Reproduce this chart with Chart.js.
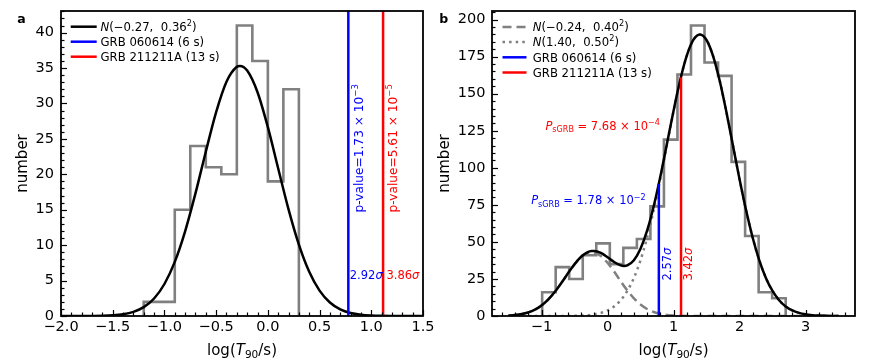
<!DOCTYPE html>
<html><head><meta charset="utf-8">
<script src="https://cdn.jsdelivr.net/npm/chart.js@4.4.0/dist/chart.umd.min.js"></script>
<style>
html,body{margin:0;padding:0;background:#fff;}
#wrap{position:relative;width:872px;height:364px;overflow:hidden;}
canvas{position:absolute;top:0;}
</style></head><body>
<div id="wrap">
<canvas id="ca" width="436" height="364" style="left:0px"></canvas>
<canvas id="cb" width="436" height="364" style="left:436px"></canvas>
</div>
<script>
// ---------------- DATA ----------------
// Panel a: histogram (step outline)
const aBinEdges = [-1.2, -1.05, -0.9, -0.75, -0.6, -0.45, -0.3, -0.15, 0.0, 0.15, 0.3];
const aCounts   = [2, 2, 15, 24, 21, 20, 41, 36, 19, 32];
// Panel a: fitted normal curve N(-0.27, 0.36^2)
const aFitX = [-2.0,-1.9,-1.8,-1.7,-1.6,-1.5,-1.4,-1.3,-1.2,-1.1,-1.0,-0.9,-0.8,-0.7,-0.6,-0.5,-0.4,-0.3,-0.27,-0.2,-0.1,0.0,0.1,0.2,0.3,0.4,0.5,0.6,0.7,0.8,0.9,1.0,1.1,1.2,1.3,1.4,1.5];
const aFitY = [0.0003,0.0012,0.0042,0.013,0.038,0.103,0.256,0.589,1.254,2.474,4.518,7.635,11.95,17.30,23.19,28.78,33.07,35.18,35.30,34.64,31.58,26.65,20.82,15.06,10.08,6.245,3.583,1.904,0.936,0.426,0.180,0.070,0.025,0.0085,0.0026,0.0007,0.0002];

// Panel b: histogram
const bBinEdges = [-0.990,-0.785,-0.580,-0.375,-0.170,0.035,0.240,0.445,0.650,0.855,1.060,1.265,1.470,1.675,1.880,2.085,2.290,2.495,2.700];
const bCounts   = [16, 33, 25, 41, 49, 35, 46, 52, 74, 119, 163, 196, 171, 162, 104, 54, 16, 12];
// Panel b: fitted curves
const bFitX = [-1.5,-1.4,-1.3,-1.2,-1.1,-1.0,-0.9,-0.8,-0.7,-0.6,-0.5,-0.4,-0.3,-0.24,-0.2,-0.1,0.0,0.1,0.2,0.25,0.3,0.4,0.5,0.6,0.7,0.8,0.9,1.0,1.1,1.2,1.3,1.4,1.5,1.6,1.7,1.8,1.9,2.0,2.1,2.2,2.3,2.4,2.5,2.6,2.7,2.8,2.9,3.0,3.1,3.2,3.3,3.4,3.5];
const bFitShort = [0.301,0.642,1.284,2.414,4.262,7.073,11.02,16.14,22.20,28.68,34.81,39.69,42.52,43.00,42.79,40.45,35.92,29.96,23.48,20.29,17.29,11.95,7.77,4.74,2.72,1.464,0.741,0.352,0.157,0.066,0.026,0.0096,0.0034,0.0011,0.0003,0,0,0,0,0,0,0,0,0,0,0,0,0,0,0,0,0,0];
const bFitLong = [0,0,0.0001,0.0003,0.0007,0.0019,0.0048,0.0119,0.0281,0.0637,0.139,0.291,0.587,0.877,1.136,2.111,3.770,6.470,10.66,13.49,16.89,25.71,37.60,52.82,71.31,92.49,115.24,137.97,158.71,175.39,186.24,190.0,186.24,175.39,158.71,137.97,115.24,92.49,71.31,52.82,37.60,25.71,16.89,10.66,6.47,3.77,2.11,1.136,0.587,0.291,0.139,0.064,0.028];
const bFitTotal = [0.301,0.642,1.284,2.414,4.263,7.075,11.03,16.15,22.23,28.74,34.95,39.98,43.11,43.88,43.93,42.56,39.69,36.43,34.14,33.78,34.18,37.66,45.37,57.56,74.03,93.95,115.98,138.32,158.87,175.46,186.27,190.01,186.24,175.39,158.71,137.97,115.24,92.49,71.31,52.82,37.60,25.71,16.89,10.66,6.47,3.77,2.11,1.136,0.587,0.291,0.139,0.064,0.028];

// GRB markers
const grbNames  = ['GRB 060614 (6 s)', 'GRB 211211A (13 s)'];
const grbLogT90 = [0.778, 1.114];
const grbColors = ['#0000ff', '#ff0000'];
const bLineTops = [89, 161];

// Tick labels
const aXTickVals = [-2, -1.5, -1, -0.5, 0, 0.5, 1, 1.5];
const aXTickLabels = ['\u22122.0','\u22121.5','\u22121.0','\u22120.5','0.0','0.5','1.0','1.5'];
const aYTickVals = [0,5,10,15,20,25,30,35,40];
const aYTickLabels = ['0','5','10','15','20','25','30','35','40'];
const bXTickVals = [-1, 0, 1, 2, 3];
const bXTickLabels = ['\u22121','0','1','2','3'];
const bYTickVals = [0,25,50,75,100,125,150,175,200];
const bYTickLabels = ['0','25','50','75','100','125','150','175','200'];

// ---------------- HELPERS ----------------
const FAM = '"DejaVu Sans"';
function fnt(size, it, bold){ return (it?'italic ':'') + (bold?'bold ':'') + size + 'px ' + FAM; }
function drawRich(ctx, segs, x, y, size, color, align, rot){
  ctx.save();
  ctx.translate(x, y);
  if (rot) ctx.rotate(rot);
  let w = 0;
  const parts = segs.map(s => {
    const sz = (s.sup || s.sub) ? size * 0.7 : size;
    const f = fnt(sz, s.it, s.b);
    ctx.font = f;
    const mw = ctx.measureText(s.t).width;
    w += mw;
    return {t: s.t, f, mw, dy: s.sup ? -size * 0.42 : (s.sub ? size * 0.22 : 0)};
  });
  let cx = align === 'right' ? -w : (align === 'center' ? -w / 2 : 0);
  ctx.fillStyle = color; ctx.textBaseline = 'alphabetic'; ctx.textAlign = 'left';
  parts.forEach(p => { ctx.font = p.f; ctx.fillText(p.t, cx, p.dy); cx += p.mw; });
  ctx.restore();
}
function histOutline(edges, counts){
  const pts = [{x: edges[0], y: 0}];
  for (let i = 0; i < counts.length; i++){
    pts.push({x: edges[i], y: counts[i]});
    pts.push({x: edges[i+1], y: counts[i]});
  }
  pts.push({x: edges[edges.length-1], y: 0});
  return pts;
}
function zip(xs, ys){ return xs.map((x, i) => ({x, y: ys[i]})); }
function stepTicks(min, max, step){
  const out = [];
  for (let k = Math.ceil(min/step - 1e-9); k <= Math.floor(max/step + 1e-9); k++){
    out.push(Math.round(k*step*1e9)/1e9);
  }
  return out;
}
function isIn(v, arr){ return arr.findIndex(m => Math.abs(m - v) < 1e-7); }

function makeChart(cfg){
  const ctxEl = document.getElementById(cfg.canvas);
  const xTicks = stepTicks(cfg.xMin, cfg.xMax, cfg.xStep);
  const yTicks = stepTicks(0, cfg.yMax, cfg.yStep);
  const framePlugin = {
    id: 'frame_' + cfg.canvas,
    afterDatasetsDraw(chart){
      const ctx = chart.ctx, ca = chart.chartArea;
      const xs = chart.scales.x, ys = chart.scales.y;
      ctx.save();
      ctx.strokeStyle = '#000'; ctx.lineWidth = 1.2; ctx.lineCap = 'butt';
      xTicks.forEach(v => {
        const px = Math.round(xs.getPixelForValue(v)) + 0.5;
        const L = isIn(v, cfg.xMajor) >= 0 ? 6 : 3.5;
        ctx.beginPath(); ctx.moveTo(px, ca.bottom); ctx.lineTo(px, ca.bottom - L); ctx.stroke();
      });
      yTicks.forEach(v => {
        const py = Math.round(ys.getPixelForValue(v)) + 0.5;
        const L = isIn(v, cfg.yMajor) >= 0 ? 6 : 3.5;
        ctx.beginPath(); ctx.moveTo(ca.left, py); ctx.lineTo(ca.left + L, py); ctx.stroke();
      });
      ctx.lineWidth = 1.8;
      ctx.strokeRect(ca.left, ca.top, ca.right - ca.left, ca.bottom - ca.top);
      // annotations
      cfg.notes.forEach(n => {
        const px = xs.getPixelForValue(n.x) + (n.dx || 0);
        const py = ys.getPixelForValue(n.y) + (n.dy || 0);
        drawRich(ctx, n.segs, px, py, n.size, n.color, n.align, n.rot);
      });
      // legend
      cfg.legend.forEach((it, i) => {
        const yy = cfg.legY + i * cfg.legStep;
        ctx.save();
        ctx.strokeStyle = it.color; ctx.lineWidth = 2.5; ctx.lineCap = 'butt';
        ctx.setLineDash(it.dash || []);
        ctx.beginPath(); ctx.moveTo(cfg.legX0, yy); ctx.lineTo(cfg.legX1, yy); ctx.stroke();
        ctx.restore();
        drawRich(ctx, it.segs, cfg.legTX, yy + 4.2, 11.7, '#000', 'left', 0);
      });
      // titles
      drawRich(ctx, [{t:'log('},{t:'T',it:1},{t:'90',sub:1},{t:'/s)'}], (ca.left + ca.right)/2, 355, 15, '#000', 'center', 0);
      drawRich(ctx, [{t:'number'}], cfg.yTitleX, (ca.top + ca.bottom)/2, 15, '#000', 'center', -Math.PI/2);
      drawRich(ctx, [{t:cfg.letter, b:1}], cfg.letterX, 23.3, 12.5, '#000', 'left', 0);
      ctx.restore();
    }
  };
  return new Chart(ctxEl, {
    type: 'line',
    data: { datasets: cfg.datasets },
    options: {
      responsive: false, animation: false, events: [],
      layout: { padding: cfg.pad },
      plugins: { legend: {display: false}, tooltip: {enabled: false} },
      elements: { point: { radius: 0 } },
      scales: {
        x: {
          type: 'linear', min: cfg.xMin, max: cfg.xMax,
          afterBuildTicks: s => { s.ticks = xTicks.map(v => ({value: v})); },
          afterFit: s => { s.height = cfg.xHeight; s.paddingLeft = 0; s.paddingRight = 0; },
          ticks: { autoSkip: false, maxRotation: 0, minRotation: 0, padding: 3, color: '#000',
                   font: {family: 'DejaVu Sans', size: 14.5},
                   callback: v => { const k = isIn(v, cfg.xMajor); return k >= 0 ? cfg.xLabels[k] : ''; } },
          grid: { display: false, drawTicks: false }, border: { display: false }
        },
        y: {
          type: 'linear', min: 0, max: cfg.yMax,
          afterBuildTicks: s => { s.ticks = yTicks.map(v => ({value: v})); },
          afterFit: s => { s.width = cfg.yWidth; s.paddingTop = 0; s.paddingBottom = 0; },
          ticks: { autoSkip: false, padding: cfg.yPad, color: '#000',
                   font: {family: 'DejaVu Sans', size: 14.5},
                   callback: v => { const k = isIn(v, cfg.yMajor); return k >= 0 ? cfg.yLabels[k] : ''; } },
          grid: { display: false, drawTicks: false }, border: { display: false }
        }
      }
    },
    plugins: [framePlugin]
  });
}

const GRAY = '#808080';
// ---------------- PANEL A ----------------
const aYMax = 43.05;
makeChart({
  canvas: 'ca', xMin: -2, xMax: 1.5, yMax: aYMax, xStep: 0.1, yStep: 1,
  xMajor: aXTickVals, xLabels: aXTickLabels, yMajor: aYTickVals, yLabels: aYTickLabels,
  pad: {left: 0, top: 11, right: 13, bottom: 0}, yWidth: 61, xHeight: 48, yPad: 7,
  yTitleX: 26.7, letter: 'a', letterX: 17.3,
  legX0: 70.7, legX1: 96.7, legTX: 100.5, legY: 26.7, legStep: 15,
  legend: [
    {color: '#000', segs: [{t:'N',it:1},{t:'(\u22120.27,  0.36'},{t:'2',sup:1},{t:')'}]},
    {color: grbColors[0], segs: [{t: grbNames[0]}]},
    {color: grbColors[1], segs: [{t: grbNames[1]}]}
  ],
  notes: [
    {x: grbLogT90[0], dx: 14.5, y: 14.6, rot: -Math.PI/2, size: 12.2, color: grbColors[0], align: 'left',
     segs: [{t:'p-value=1.73 \u00d7 10'},{t:'\u22123',sup:1}]},
    {x: grbLogT90[1], dx: 13.8, y: 14.6, rot: -Math.PI/2, size: 12.2, color: grbColors[1], align: 'left',
     segs: [{t:'p-value=5.61 \u00d7 10'},{t:'\u22125',sup:1}]},
    {x: 0.792, y: 5.16, size: 11.5, color: grbColors[0], align: 'left', segs: [{t:'2.92'},{t:'\u03c3',it:1}]},
    {x: 1.147, y: 5.16, size: 11.5, color: grbColors[1], align: 'left', segs: [{t:'3.86'},{t:'\u03c3',it:1}]}
  ],
  datasets: [
    {data: histOutline(aBinEdges, aCounts), borderColor: GRAY, borderWidth: 2.6, tension: 0, order: 5, borderJoinStyle: 'miter'},
    {data: zip(aFitX, aFitY), borderColor: '#000', borderWidth: 2.5, cubicInterpolationMode: 'monotone', order: 3},
    {data: [{x: grbLogT90[0], y: 0}, {x: grbLogT90[0], y: aYMax}], borderColor: grbColors[0], borderWidth: 2.5, order: 2},
    {data: [{x: grbLogT90[1], y: 0}, {x: grbLogT90[1], y: aYMax}], borderColor: grbColors[1], borderWidth: 2.5, order: 1}
  ]
});

// ---------------- PANEL B ----------------
const bYMax = 205.8;
makeChart({
  canvas: 'cb', xMin: -1.75, xMax: 3.75, yMax: bYMax, xStep: 0.2, yStep: 5,
  xMajor: bXTickVals, xLabels: bXTickLabels, yMajor: bYTickVals, yLabels: bYTickLabels,
  pad: {left: 0, top: 11, right: 17, bottom: 0}, yWidth: 56, xHeight: 48, yPad: 6.5,
  yTitleX: 12.5, letter: 'b', letterX: 3.3,
  legX0: 66.5, legX1: 90.5, legTX: 96.7, legY: 26.9, legStep: 15.2,
  legend: [
    {color: GRAY, dash: [9, 5], segs: [{t:'N',it:1},{t:'(\u22120.24,  0.40'},{t:'2',sup:1},{t:')'}]},
    {color: GRAY, dash: [2.5, 4.1], segs: [{t:'N',it:1},{t:'(1.40,  0.50'},{t:'2',sup:1},{t:')'}]},
    {color: grbColors[0], segs: [{t: grbNames[0]}]},
    {color: grbColors[1], segs: [{t: grbNames[1]}]}
  ],
  notes: [
    {x: 0.794, y: 125.8, size: 11.5, color: grbColors[1], align: 'right',
     segs: [{t:'P',it:1},{t:'sGRB',sub:1},{t:' = 7.68 \u00d7 10'},{t:'\u22124',sup:1}]},
    {x: 0.578, y: 75.3, size: 11.5, color: grbColors[0], align: 'right',
     segs: [{t:'P',it:1},{t:'sGRB',sub:1},{t:' = 1.78 \u00d7 10'},{t:'\u22122',sup:1}]},
    {x: grbLogT90[0], dx: 12, y: 23.9, rot: -Math.PI/2, size: 11.5, color: grbColors[0], align: 'left', segs: [{t:'2.57'},{t:'\u03c3',it:1}]},
    {x: grbLogT90[1], dx: 11, y: 23.9, rot: -Math.PI/2, size: 11.5, color: grbColors[1], align: 'left', segs: [{t:'3.42'},{t:'\u03c3',it:1}]}
  ],
  datasets: [
    {data: histOutline(bBinEdges, bCounts), borderColor: GRAY, borderWidth: 2.6, tension: 0, order: 6, borderJoinStyle: 'miter'},
    {data: zip(bFitX, bFitShort), borderColor: GRAY, borderWidth: 2.5, borderDash: [9, 5], cubicInterpolationMode: 'monotone', order: 5},
    {data: zip(bFitX, bFitLong), borderColor: GRAY, borderWidth: 2.5, borderDash: [2.5, 4.1], cubicInterpolationMode: 'monotone', order: 4},
    {data: zip(bFitX, bFitTotal), borderColor: '#000', borderWidth: 2.5, cubicInterpolationMode: 'monotone', order: 3},
    {data: [{x: grbLogT90[0], y: 0}, {x: grbLogT90[0], y: bLineTops[0]}], borderColor: grbColors[0], borderWidth: 2.5, order: 2},
    {data: [{x: grbLogT90[1], y: 0}, {x: grbLogT90[1], y: bLineTops[1]}], borderColor: grbColors[1], borderWidth: 2.5, order: 1}
  ]
});
</script>
</body></html>
